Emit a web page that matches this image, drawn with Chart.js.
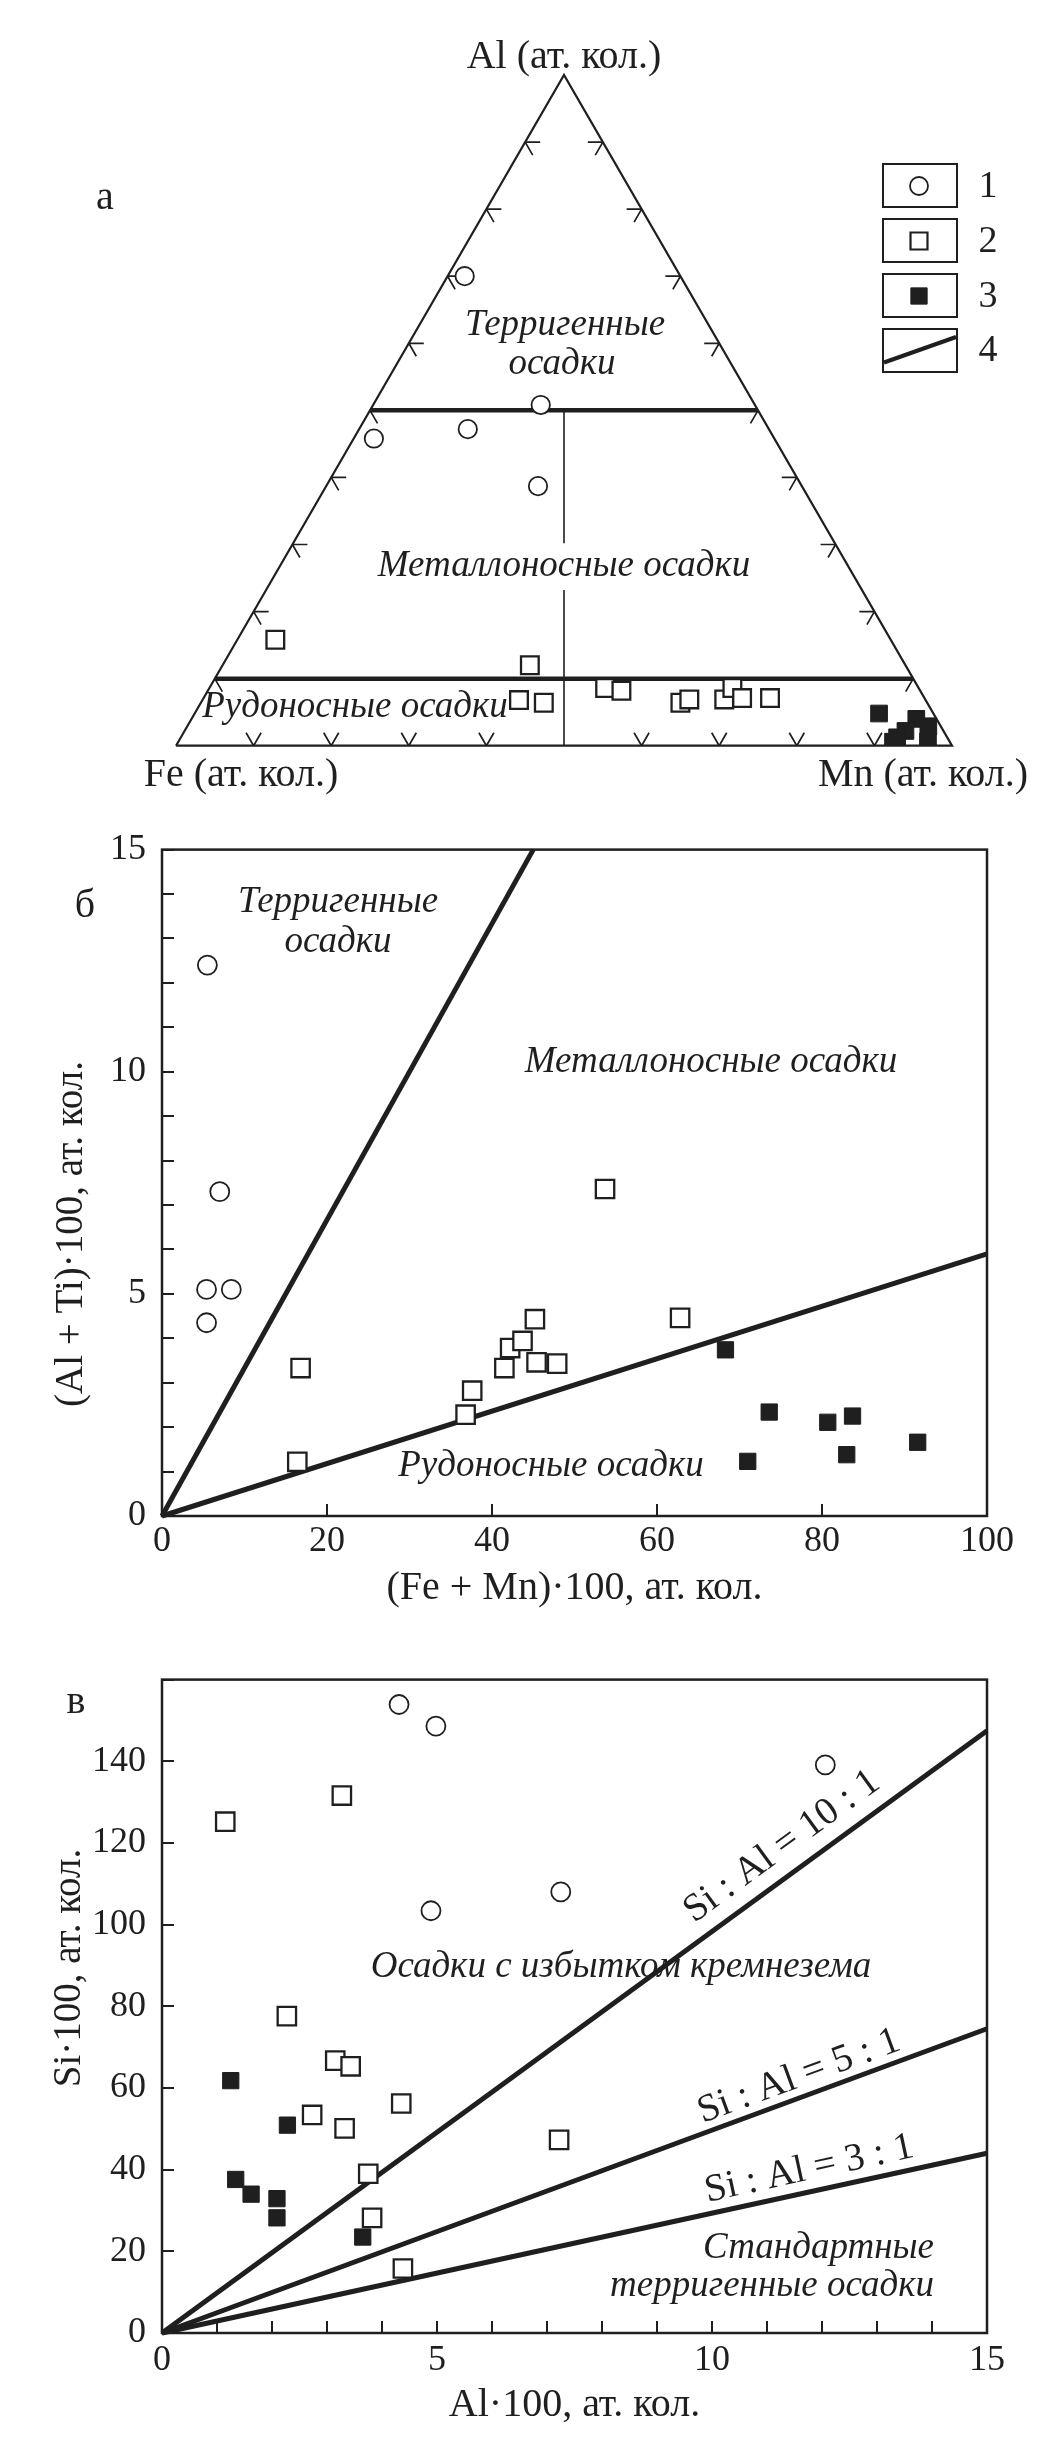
<!DOCTYPE html>
<html><head><meta charset="utf-8">
<script src="https://cdn.jsdelivr.net/npm/chart.js@4/dist/chart.umd.min.js"></script>
<style>
html,body{margin:0;padding:0;background:#fff;}
body{width:1056px;height:2451px;position:relative;overflow:hidden;}
canvas{position:absolute;left:0;}
</style></head><body>
<canvas id="cA" width="1056" height="800" style="top:0px"></canvas>
<canvas id="cB" width="1056" height="830" style="top:800px"></canvas>
<canvas id="cC" width="1056" height="821" style="top:1630px"></canvas>
<script>
// ---------- DATA ----------
// Panel а: ternary Fe–Mn–Al (values in %, Fe = 100 - Al - Mn)
const ternaryTicks = [10, 20, 30, 40, 50, 60, 70, 80, 90];
const ternaryBoundariesAl = [50, 10];
const terrCirclesAl = [70.0, 50.8, 45.8, 47.2, 38.7];
const terrCirclesMn = [2.2, 21.6, 2.6, 14.0, 27.3];
const metOpenAl = [15.8, 12.0, 6.8, 6.4, 8.6, 8.2, 6.4, 6.9, 6.9, 8.6, 7.1, 7.1];
const metOpenMn = [4.9, 39.6, 40.8, 44.2, 51.0, 53.3, 61.8, 62.7, 67.2, 67.4, 69.4, 73.0];
const oreFilledAl = [4.8, 4.0, 2.9, 2.2, 1.25, 0.6, 0.6];
const oreFilledMn = [88.2, 93.4, 95.5, 92.9, 92.3, 96.6, 92.1];
const legendLabels = ['1', '2', '3', '4'];

// Panel б: (Fe+Mn)·100 vs (Al+Ti)·100
const bCirclesX = [5.5, 7.0, 5.4, 8.4, 5.4];
const bCirclesY = [12.4, 7.3, 5.1, 5.1, 4.35];
const bOpenX = [53.7, 16.8, 16.4, 36.8, 37.6, 41.5, 42.2, 43.7, 45.2, 45.4, 47.9, 62.8];
const bOpenY = [7.36, 3.33, 1.22, 2.28, 2.82, 3.33, 3.78, 3.94, 4.43, 3.46, 3.43, 4.46];
const bFilledX = [68.3, 73.6, 71.0, 80.7, 83.7, 83.0, 91.6];
const bFilledY = [3.74, 2.34, 1.23, 2.11, 2.25, 1.38, 1.66];
const bLineTerrX = [0, 45];
const bLineTerrY = [0, 15];
const bLineOreX = [0, 100];
const bLineOreY = [0, 5.9];

// Panel в: Al·100 vs Si·100
const cCirclesX = [4.31, 4.98, 12.06, 4.89, 7.25];
const cCirclesY = [153.9, 148.6, 139.1, 103.4, 108.0];
const cOpenX = [1.15, 3.27, 2.27, 3.15, 3.43, 4.35, 2.73, 3.32, 7.22, 3.75, 3.82, 4.38];
const cOpenY = [125.2, 131.6, 77.6, 66.7, 65.3, 56.2, 53.4, 50.1, 47.3, 39.0, 28.2, 15.8];
const cFilledX = [1.25, 2.28, 1.34, 1.62, 2.09, 2.09, 3.65];
const cFilledY = [61.8, 50.9, 37.6, 34.0, 32.9, 28.2, 23.5];
const ratioLabels = ['Si : Al = 10 : 1', 'Si : Al = 5 : 1', 'Si : Al = 3 : 1'];
const ratioLineEndX = 15;
const ratioLineEndY = [147.5, 74.5, 44];

// ---------- HELPERS ----------
const INK = '#1f1f1f';
const SERIF = '"Liberation Serif","Times New Roman",serif';
const FS = 36;      // tick labels
const TFS = 40;     // axis titles / vertex labels
const IFS = 37;     // italic region labels
const zip = (xs, ys) => xs.map((v, i) => ({x: v, y: ys[i]}));
const SQ3 = Math.sqrt(3) / 2;
const tern = (al, mn) => ({x: (mn + al / 2) / 100, y: al / 100 * SQ3});

function txt(ctx, s, x, y, size, o = {}) {
  ctx.save();
  ctx.font = (o.italic ? 'italic ' : '') + size + 'px ' + SERIF;
  ctx.fillStyle = INK;
  ctx.textAlign = o.align || 'center';
  ctx.textBaseline = o.base || 'middle';
  ctx.translate(x, y);
  if (o.rot) ctx.rotate(o.rot);
  ctx.fillText(s, 0, 0);
  ctx.restore();
}
const circleDS = (data, r) => ({data, pointStyle: 'circle', pointRadius: r, pointHoverRadius: r,
  borderColor: INK, backgroundColor: '#fff', borderWidth: 1.8});
const openDS = (data, r) => ({data, pointStyle: 'rect', pointRadius: r, pointHoverRadius: r,
  borderColor: INK, backgroundColor: '#fff', borderWidth: 2.3});
const filledDS = (data, r) => ({data, pointStyle: 'rect', pointRadius: r, pointHoverRadius: r,
  borderColor: INK, backgroundColor: INK, borderWidth: 1});
const lineDS = (data, w) => ({data, showLine: true, pointRadius: 0, borderColor: INK,
  borderWidth: w, fill: false, clip: false, borderCapStyle: 'butt'});

const frame = {id: 'frame', afterDatasetsDraw(chart) {
  const {ctx, chartArea: a} = chart;
  ctx.save(); ctx.strokeStyle = INK; ctx.lineWidth = 2.5;
  ctx.strokeRect(a.left, a.top, a.right - a.left, a.bottom - a.top);
  ctx.restore();
}};
const baseOpts = (pad) => ({
  responsive: false, animation: false, events: [],
  layout: {padding: pad},
  plugins: {legend: {display: false}, tooltip: {enabled: false}}
});
const tickFont = {family: SERIF, size: FS};
const gridOpts = {drawOnChartArea: false, drawTicks: true, tickLength: -12, color: INK, lineWidth: 2};

// ---------- PANEL а ----------
const ternPlugin = {id: 'tern',
  beforeDatasetsDraw(chart) {
    const {ctx, scales: {x, y}} = chart;
    const P = (al, mn) => { const t = tern(al, mn); return [x.getPixelForValue(t.x), y.getPixelForValue(t.y)]; };
    const L = 15, c = 0.5, s = SQ3;
    ctx.save(); ctx.strokeStyle = INK; ctx.lineWidth = 1.7; ctx.beginPath();
    ternaryTicks.forEach(t => {
      let [px, py] = P(t, 0);
      ctx.moveTo(px, py); ctx.lineTo(px + L, py);
      ctx.moveTo(px, py); ctx.lineTo(px + L * c, py + L * s);
      [px, py] = P(t, 100 - t);
      ctx.moveTo(px, py); ctx.lineTo(px - L, py);
      ctx.moveTo(px, py); ctx.lineTo(px - L * c, py + L * s);
      if (t !== 50) {
        [px, py] = P(0, t);
        ctx.moveTo(px, py); ctx.lineTo(px - L * c, py - L * s);
        ctx.moveTo(px, py); ctx.lineTo(px + L * c, py - L * s);
      }
    });
    ctx.stroke(); ctx.restore();
  },
  afterDatasetsDraw(chart) {
    const {ctx} = chart;
    txt(ctx, 'Al (ат. кол.)', 564, 57, TFS);
    txt(ctx, 'Fe (ат. кол.)', 241, 775, TFS);
    txt(ctx, 'Mn (ат. кол.)', 923, 775, TFS);
    txt(ctx, 'а', 105, 198, TFS);
    txt(ctx, 'Терригенные', 565, 325, IFS, {italic: true});
    txt(ctx, 'осадки', 562, 364, IFS, {italic: true});
    txt(ctx, 'Металлоносные осадки', 564, 566, IFS, {italic: true});
    txt(ctx, 'Рудоносные осадки', 355, 707, IFS, {italic: true});
    // legend
    const H = Chart.helpers;
    const bx = 883, bw = 74, bh = 43, tops = [164, 219, 274, 329];
    ctx.save(); ctx.strokeStyle = INK; ctx.lineWidth = 2;
    tops.forEach(t => ctx.strokeRect(bx, t, bw, bh));
    ctx.restore();
    ctx.save(); ctx.strokeStyle = INK; ctx.fillStyle = '#fff'; ctx.lineWidth = 1.8;
    H.drawPoint(ctx, {pointStyle: 'circle', radius: 9, borderWidth: 1.8}, 919, 186);
    ctx.lineWidth = 2.2;
    H.drawPoint(ctx, {pointStyle: 'rect', radius: 12, borderWidth: 2.2}, 919, 241);
    ctx.fillStyle = INK; ctx.lineWidth = 1;
    H.drawPoint(ctx, {pointStyle: 'rect', radius: 11.5, borderWidth: 1}, 919, 296);
    ctx.lineWidth = 4; ctx.beginPath(); ctx.moveTo(884, 362.5); ctx.lineTo(956, 337); ctx.stroke();
    ctx.restore();
    legendLabels.forEach((l, i) => txt(ctx, l, 988, [187, 242, 297, 351][i], 38));
  }
};
const triangle = [tern(0, 0), tern(0, 100), tern(100, 0), tern(0, 0)];
new Chart(document.getElementById('cA'), {
  type: 'scatter',
  data: {datasets: [
    circleDS(zip(terrCirclesAl, terrCirclesMn).map(p => tern(p.x, p.y)), 9.2),
    openDS(zip(metOpenAl, metOpenMn).map(p => tern(p.x, p.y)), 12.5),
    Object.assign(filledDS(zip(oreFilledAl, oreFilledMn).map(p => tern(p.x, p.y)), 11.8), {clip: 0}),
    lineDS(triangle, 2.2),
    lineDS([tern(ternaryBoundariesAl[0], 0), tern(ternaryBoundariesAl[0], 100 - ternaryBoundariesAl[0])], 4.5),
    lineDS([tern(ternaryBoundariesAl[1], 0), tern(ternaryBoundariesAl[1], 100 - ternaryBoundariesAl[1])], 4.5),
    lineDS([tern(0, 50), tern(23.2, 38.4)], 1.6),
    lineDS([tern(30.2, 34.9), tern(50, 25)], 1.6)
  ]},
  options: Object.assign(baseOpts({left: 176, right: 104, top: 75, bottom: 54.3}), {
    scales: {
      x: {type: 'linear', display: false, min: 0, max: 1},
      y: {type: 'linear', display: false, min: 0, max: SQ3}
    }
  }),
  plugins: [ternPlugin]
});

// ---------- PANEL б ----------
const bText = {id: 'bText', afterDatasetsDraw(chart) {
  const {ctx} = chart;
  txt(ctx, 'б', 85, 106, TFS);
  txt(ctx, 'Терригенные', 338, 102, IFS, {italic: true});
  txt(ctx, 'осадки', 338, 142, IFS, {italic: true});
  txt(ctx, 'Металлоносные осадки', 711, 262, IFS, {italic: true});
  txt(ctx, 'Рудоносные осадки', 551, 666, IFS, {italic: true});
  txt(ctx, '(Al + Ti)·100, ат. кол.', 72, 434, 39, {rot: -Math.PI / 2});
}};
new Chart(document.getElementById('cB'), {
  type: 'scatter',
  data: {datasets: [
    circleDS(zip(bCirclesX, bCirclesY), 9.5),
    openDS(zip(bOpenX, bOpenY), 13),
    filledDS(zip(bFilledX, bFilledY), 11.5),
    lineDS(zip(bLineTerrX, bLineTerrY), 5),
    lineDS(zip(bLineOreX, bLineOreY), 5)
  ]},
  options: Object.assign(baseOpts({left: 0, right: 69, top: 45, bottom: 0}), {
    scales: {
      x: {type: 'linear', min: 0, max: 100,
        ticks: {stepSize: 20, padding: 16, font: tickFont, color: INK, maxRotation: 0, autoSkip: false},
        grid: gridOpts, border: {display: false},
        title: {display: true, text: '(Fe + Mn)·100, ат. кол.', font: {family: SERIF, size: TFS}, color: INK, padding: {top: 0, bottom: 18}},
        afterFit(s) { s.height = 114; }},
      y: {type: 'linear', min: 0, max: 15,
        ticks: {stepSize: 1, padding: 28, font: tickFont, color: INK, autoSkip: false,
          callback: v => (v % 5 === 0 ? String(v) : '')},
        grid: gridOpts, border: {display: false},
        afterFit(s) { s.width = 162; }}
    }
  }),
  plugins: [frame, bText]
});

// ---------- PANEL в ----------
const cText = {id: 'cText', afterDatasetsDraw(chart) {
  const {ctx, scales: {x, y}} = chart;
  txt(ctx, 'в', 76, 72, TFS);
  txt(ctx, 'Осадки с избытком кремнезема', 621, 337, IFS, {italic: true});
  txt(ctx, 'Стандартные', 934, 618, IFS, {italic: true, align: 'right'});
  txt(ctx, 'терригенные осадки', 934, 656, IFS, {italic: true, align: 'right'});
  txt(ctx, 'Si·100, ат. кол.', 70, 338, 39, {rot: -Math.PI / 2});
  const lx = [798, 806, 814], off = [17, 10, 12];
  ratioLabels.forEach((lab, i) => {
    const x0 = x.getPixelForValue(0), y0 = y.getPixelForValue(0);
    const x1 = x.getPixelForValue(ratioLineEndX), y1 = y.getPixelForValue(ratioLineEndY[i]);
    const ang = Math.atan2(y1 - y0, x1 - x0);
    const t = (lx[i] - x0) / (x1 - x0), ly = y0 + t * (y1 - y0);
    txt(ctx, lab, lx[i] + Math.sin(ang) * off[i], ly - Math.cos(ang) * off[i], 39, {rot: ang, base: 'alphabetic'});
  });
}};
new Chart(document.getElementById('cC'), {
  type: 'scatter',
  data: {datasets: [
    circleDS(zip(cCirclesX, cCirclesY), 9.5),
    openDS(zip(cOpenX, cOpenY), 13),
    filledDS(zip(cFilledX, cFilledY), 11.5),
    ...ratioLineEndY.map(v => lineDS([{x: 0, y: 0}, {x: ratioLineEndX, y: v}], 5))
  ]},
  options: Object.assign(baseOpts({left: 0, right: 69, top: 22, bottom: 0}), {
    scales: {
      x: {type: 'linear', min: 0, max: 15,
        ticks: {stepSize: 1, padding: 18, font: tickFont, color: INK, maxRotation: 0, autoSkip: false,
          callback: v => (v % 5 === 0 ? String(v) : '')},
        grid: gridOpts, border: {display: false},
        title: {display: true, text: 'Al·100, ат. кол.', font: {family: SERIF, size: TFS}, color: INK, padding: {top: 0, bottom: 22}},
        afterFit(s) { s.height = 118; }},
      y: {type: 'linear', min: 0, max: 160,
        ticks: {stepSize: 20, padding: 28, font: tickFont, color: INK, autoSkip: false,
          callback: v => (v === 160 ? '' : String(v))},
        grid: gridOpts, border: {display: false},
        afterFit(s) { s.width = 162; }}
    }
  }),
  plugins: [frame, cText]
});
</script>
</body></html>
